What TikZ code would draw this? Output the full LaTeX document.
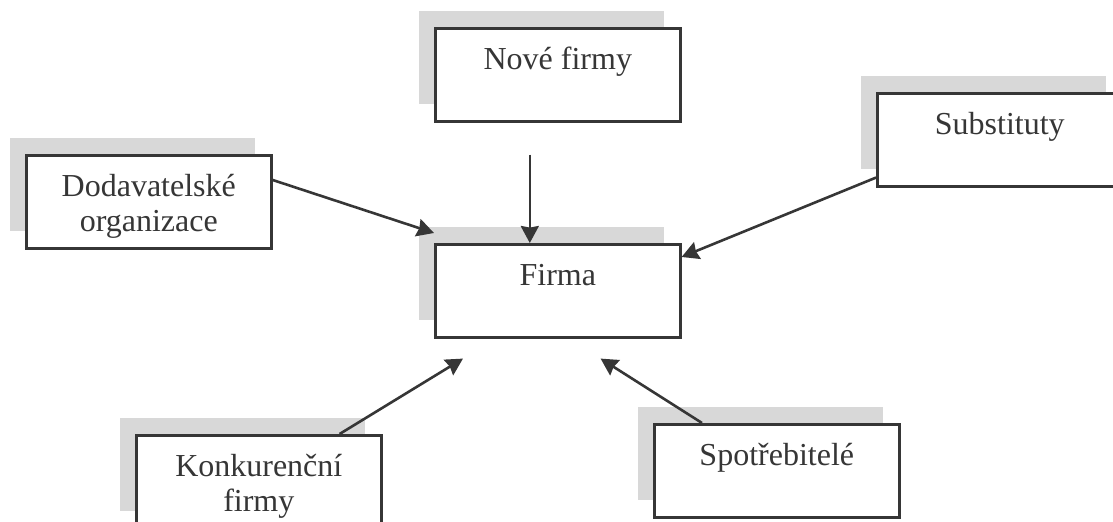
\documentclass[tikz,border=0pt]{standalone}
\usepackage{fontspec}
\setmainfont{Liberation Serif}
\usetikzlibrary{arrows.meta,shadows}
\definecolor{ink}{HTML}{363636}
\definecolor{shade}{HTML}{D8D8D8}

\begin{document}
\begin{tikzpicture}[
  x=0.5pt, y=-0.5pt,
  blok/.style={draw=ink, line width=1.3pt, fill=white, text=ink, anchor=north west,
    minimum width=122.5pt, inner ysep=0pt, text height=20.5pt, text depth=26pt,
    align=center, font=\fontsize{16pt}{17.5pt}\selectfont,
    general shadow={fill=shade, shadow xshift=-8pt, shadow yshift=8.5pt}},
  blokdva/.style={blok, text height=38pt, text depth=8.5pt},
  arr/.style={draw=ink, line width=1.3pt, -{Stealth[length=8.5pt, width=9pt, inset=0.8pt]}}
]
\clip (0,0) rectangle (1113,522);

\node [blok] (nove) at (434,27) {Nové firmy};
\node [blok] (firma) at (434,243) {Firma};
\node [blokdva] (dodav) at (25,154) {Dodavatelské\\organizace};
\node [blok] (subst) at (876,92) {Substituty};
\node [blokdva] (konk) at (135,434) {Konkurenční\\firmy};
\node [blok] (spotr) at (653,423) {Spotřebitelé};

\draw [arr] ([xshift=-14pt, yshift=-16pt]nove.south) -- ([xshift=-14pt]firma.north);
\draw [arr] (dodav.10) -- ([yshift=5pt]firma.north west);
\draw [arr] ([yshift=5pt]subst.south west) -- ([yshift=-7pt]firma.north east);
\draw [arr] ([xshift=-21.5pt]konk.north east) -- ([xshift=14.5pt, yshift=-10pt]firma.south west);
\draw [arr] ([xshift=24.5pt]spotr.north west) -- ([xshift=-40.5pt, yshift=-10pt]firma.south east);
\end{tikzpicture}
\end{document}
